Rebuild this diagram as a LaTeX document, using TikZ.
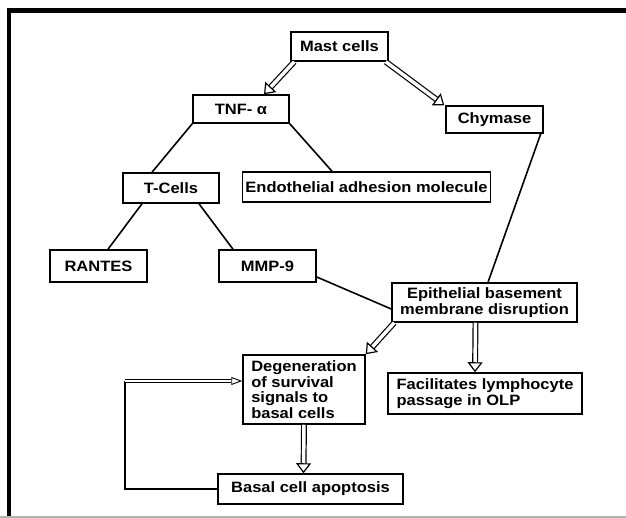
\documentclass[tikz,border=0pt]{standalone}
\usepackage{fontspec}
\setmainfont{Liberation Sans}[FakeStretch=1.1]
\usetikzlibrary{arrows.meta}

\begin{document}
\begin{tikzpicture}[x=1pt, y=-1pt,
    box/.style={rectangle, draw, line width=1.5pt, inner sep=3pt, font=\bfseries\fontsize{15}{15.5}\selectfont},
    hollow/.style={draw, double, double distance=3.5pt, line width=1.2pt, -{Triangle[open, length=10pt, width=15pt]}},
    thinhollow/.style={draw, double, double distance=1.8pt, line width=0.9pt, -{Triangle[open, length=11pt, width=8pt]}},
    link/.style={line width=1.6pt}]
    \useasboundingbox (0,0) rectangle (626,518);
    % frame of the scan
    \draw[line width=5pt] (7,11) -- (626,11);
    \draw[line width=4pt] (9,9) -- (9,518);
    \draw[gray!60, line width=2pt] (0,517) -- (626,517);

    \node at (339.5,46.5) [box, minimum width=97pt, minimum height=29pt] (mast) {Mast cells};
    \node at (241,109) [box, minimum width=96pt, minimum height=28pt] (tnf) {TNF- α};
    \node at (494.5,119.5) [box, minimum width=97pt, minimum height=27pt] (chym) {Chymase};
    \node at (171,188) [box, minimum width=96pt, minimum height=30pt] (tcell) {T-Cells};
    \node at (366.5,187) [box, minimum width=247pt, minimum height=30pt] (endo) {Endothelial adhesion molecule};
    \node at (98.5,266) [box, minimum width=97pt, minimum height=32pt] (rantes) {RANTES};
    \node at (267.5,266) [box, minimum width=97pt, minimum height=32pt] (mmp) {MMP-9};
    \node at (484.5,302.5) [box, minimum width=185pt, minimum height=39pt, align=center] (epi) {Epithelial basement\\membrane disruption};
    \node at (304,389.5) [box, minimum width=122pt, minimum height=69pt, align=left] (degen) {Degeneration\\of survival\\signals to\\basal cells};
    \node at (485,393.5) [box, minimum width=194pt, minimum height=41pt, align=left] (facil) {Facilitates lymphocyte\\passage in OLP};
    \node at (310.5,489) [box, minimum width=185pt, minimum height=30pt] (basal) {Basal cell apoptosis};

    \draw[hollow] ([xshift=4pt]mast.south west) -- ([xshift=23pt]tnf.north);
    \draw[hollow] ([xshift=-3pt]mast.south east) -- ([xshift=-1pt]chym.north west);
    \draw[hollow] ([xshift=3pt]epi.south west) -- (degen.north east);
    \draw[hollow] ([xshift=-9pt]epi.south) -- ([xshift=-10pt]facil.north);
    \draw[hollow] (degen.south) -- ([xshift=-7pt]basal.north);

    \draw[link] (tnf.south west) -- ([xshift=-19pt]tcell.north);
    \draw[link] (tnf.south east) -- ([xshift=-34.5pt]endo.north);
    \draw[link] ([xshift=-29pt]tcell.south) -- ([xshift=9.5pt]rantes.north);
    \draw[link] ([xshift=28pt]tcell.south) -- ([xshift=-34.5pt]mmp.north);
    \draw[link] ([yshift=-11pt]mmp.east) -- ([yshift=-6.5pt]epi.west);
    \draw[link] ([xshift=-3pt]chym.south east) -- ([xshift=3.5pt]epi.north);

    % feedback loop
    \coordinate (back) at (125,381);
    \draw[link] (basal.west) -| (back);
    \draw[thinhollow] (back) -- (degen.west |- back);
\end{tikzpicture}
\end{document}
